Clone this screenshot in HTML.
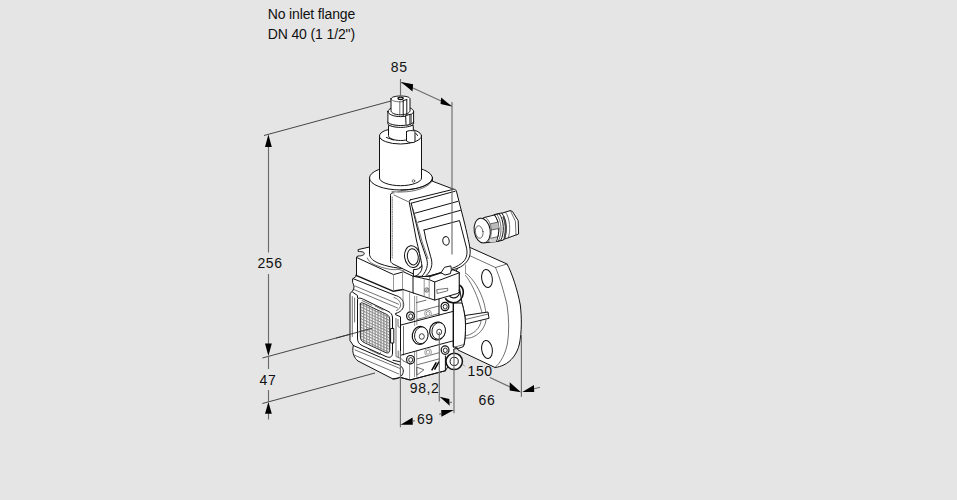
<!DOCTYPE html>
<html>
<head>
<meta charset="utf-8">
<title>No inlet flange DN 40</title>
<style>
html,body{margin:0;padding:0;background:#e5e5e5;}
body{width:957px;height:500px;overflow:hidden;position:relative;font-family:"Liberation Sans",sans-serif;}
svg{position:absolute;left:0;top:0;display:block;}
svg text{font-family:"Liberation Sans",sans-serif;font-size:14px;fill:#111;}
.k{stroke:#111;stroke-width:1;fill:none;stroke-linecap:round;stroke-linejoin:round;}
.kw{stroke:#111;stroke-width:1;fill:#fff;stroke-linecap:round;stroke-linejoin:round;}
.b{stroke:#111;stroke-width:1.4;fill:none;stroke-linecap:round;stroke-linejoin:round;}
.t{stroke:#333;stroke-width:0.7;fill:none;stroke-linecap:round;stroke-linejoin:round;}
.tw{stroke:#333;stroke-width:0.7;fill:#fff;stroke-linecap:round;stroke-linejoin:round;}
.g{stroke:#8a8a8a;stroke-width:0.9;fill:none;}
.d{stroke:#6c6c6c;stroke-width:1.15;fill:none;}
.dk{stroke:#333;stroke-width:0.9;fill:none;}
.a{fill:#000;stroke:none;}
</style>
</head>
<body>
<svg width="957" height="500" viewBox="0 0 957 500">
<defs>
<pattern id="mesh" width="2.9" height="2.9" patternUnits="userSpaceOnUse" patternTransform="matrix(1 0.47 0 1 0.5 0.8)">
<rect width="2.9" height="2.9" fill="#fff"/>
<path d="M0 0.55 H2.9 M0.55 0 V2.9" stroke="#8c8c8c" stroke-width="1.15"/>
</pattern>
</defs>
<rect x="0" y="0" width="957" height="500" fill="#e5e5e5"/>

<!-- ===== titles ===== -->
<text x="267.7" y="19" letter-spacing="-0.14">No inlet flange</text>
<text x="267.7" y="39" letter-spacing="-0.12">DN 40 (1 1/2")</text>

<!-- ===== extension lines behind drawing ===== -->
<g id="ext-back">
<path class="dk" d="M264 135.5 L391 101"/>
<path class="dk" d="M262.4 358 L372 328.3"/>
<path class="dk" d="M262.4 403.5 L375 373"/>
</g>

<!-- FLANGE -->
<g id="flange">
<!-- outer silhouette -->
<path class="kw" d="M470 247.5 L507 264 C512 273 517.5 290 520.3 305 C521.8 318 521.8 332 519.4 344 C517.2 354 511 361.5 504 364.8 C501 366.3 498 367.2 495 367.5 L458 350 L440 300 Z"/>
<!-- front face -->
<path class="t" d="M470.5 256 L495.5 267.5 L507 264"/>
<path class="t" d="M495.5 267.5 C499 275 504 292 507 305 C509 318 509.3 332 507.5 343 C505.5 354 500.5 363 495 367.5"/>
<!-- bolt holes -->
<ellipse class="k" cx="487" cy="278.5" rx="5.3" ry="9" transform="rotate(-9 487 278.5)" stroke-width="0.9"/>
<ellipse class="k" cx="487" cy="349.5" rx="5.3" ry="9" transform="rotate(-9 487 349.5)" stroke-width="0.9"/>
<!-- raised face arcs -->
<path class="t" d="M465.8 273.2 C473.5 278.5 480.8 291.5 484 303 C485 307 485.6 310 485.8 312.3"/>
<path class="t" d="M465.5 275.5 C470.5 281.5 476.2 293 479.5 304 C480.7 308 481.6 311 482 313"/>
<path class="g" d="M465.5 264.5 V274" stroke-width="0.8"/>
<path class="t" d="M486 320 C485.5 326 481 333 474 336.5 C471 338 468 338.5 465 338"/>
<path class="t" d="M481 321 C480.5 326 477 331 471 334 C469 335 467 335.7 465 335.7"/>
<!-- rib -->
<path class="kw" d="M465 315.5 L488 312 L489 318.3 L465.5 324 Z"/>
<path class="t" d="M465.3 319.5 L488.4 314"/>
</g>

<!-- GLAND -->
<g id="gland">
<!-- big nut (right) -->
<path class="kw" d="M501.9 213.2 L510.3 210.6 L512.4 211.4 L518.2 220.7 L518.6 234 L507.6 238 L500 240.4 Z"/>
<path class="t" d="M510.3 210.6 L515.4 221.2 L516 235"/>
<path class="t" d="M505.5 212.2 C510 218 511 231 508.2 237.8"/>
<!-- seal -->
<path class="kw" d="M501.9 213.2 C506.5 219 507.5 232 503.5 240 L497 241.5 L494.4 215 Z" />
<path d="M503.3 216.5 C506.2 222 506.6 231 504.6 237.8" stroke="#4a4a4a" stroke-width="2.2" fill="none"/>
<!-- small nut -->
<path class="kw" d="M494.4 215 L499.2 213.7 C504 220 504.8 233 500.6 240.4 L496 241.7 C500 233 499.6 222 494.4 215 Z"/>
<path class="t" d="M496.8 214.4 C501.8 221 502.5 233 498.4 241"/>
<!-- body -->
<path class="kw" d="M483.8 217.6 L494.4 215 C499.8 222 500.2 233 496 241.7 L484.7 242.8 Z"/>
<path d="M490.5 223.8 L498.4 222 L498.9 228.6 L491.4 230 Z" fill="#bbb" stroke="none"/>
<path d="M491 238.2 L497.4 236.8 L496 241.7 L490.5 242.4 Z" fill="#cfcfcf" stroke="none"/>
<path class="t" d="M490.5 223.8 L498.4 222 M491.4 230 L498.9 228.6 M491 238.2 L497.4 236.8" stroke="#777"/>
<!-- cap -->
<ellipse class="kw" cx="482.2" cy="230.6" rx="8" ry="12.4" transform="rotate(-9 482.2 230.6)"/>
<path class="t" d="M485.5 217.3 C492 222 493.5 235 488 242.6"/>
<ellipse class="t" cx="479.2" cy="232" rx="3.8" ry="6.3" transform="rotate(-9 479.2 232)"/>
</g>

<!-- BODY -->
<g id="body">
<!-- silhouette -->
<path class="kw" d="M358.5 249.5 L369.5 247 L413 262 L459 272.4 V285 L462 303 C464 310 465.5 318 465.5 325 C465.5 333 465 340 464 345 L458.4 348.4 L453.8 349 V356 L445.5 370.7 L410 380 L400.4 377.4 L393 379 L358 361 C354 358 352.6 353 352.8 349 L353.3 345.5 L350 340.5 V293.5 L352.6 291 C354.5 288 354.5 286 352.6 282.5 V279 L356.5 276 V257 L358 256 C362 256 364.3 255 364.3 253.5 C364.3 252 362 251.5 358.6 251.5 Z"/>
<!-- upper block -->
<path class="k" d="M356.7 257.5 L393.5 274.6 L403.5 271.8 L413.4 276.4" stroke-width="0.85"/>
<path class="b" d="M356 275.3 L393 291.2 L403 289.5"/>
<path class="g" d="M393.5 274.5 V291 M402.5 272 V289.5"/>
<!-- lip under upper block -->
<path class="k" d="M353 278.6 L395 295.3 C400 296.5 403.7 300 403.7 304.5 C403.7 309 400.5 312.2 396 313.3"/>
<path class="t" d="M355 286 L398.5 304.2 M354 289.5 L397.5 308"/>
<path class="t" d="M394 297.5 C397.5 298.5 400.6 301.5 400.6 304.8 C400.6 307.5 399 309.5 396.5 310.5"/>
<path class="k" d="M352.5 292 L357.5 295.5 L357.5 298"/>
<!-- window frame -->
<path class="k" d="M357.5 300 V338 C357.5 342 359 344 362 345.5 L386 356.5 C390 358.3 392.5 357 392.5 353 V318 C392.5 314.5 391 312.8 388 311.3 L363.5 299.3 C360 297.7 357.5 297.5 357.5 300 Z" style="fill:#fff"/>
<path class="t" d="M360.3 304 V336 C360.3 339.5 361.3 341 364 342.5 L385 352.3 C388 353.8 389.8 353 389.8 349.5 V320 C389.8 317 388.8 315.5 386.5 314.3 L365 304 C362 302.6 360.3 302 360.3 304 Z" style="fill:url(#mesh);stroke:#222;stroke-width:0.9"/>
<path class="t" d="M352.3 296.5 V336.5 M354.6 298 V322"/>
<path class="t" d="M362 300.5 L372 305.3 M375 306 L383 310"/>
<path class="t" d="M369 349.5 L379.5 354.5 L380.5 352.6"/>
<path class="kw" d="M391 328.5 H393.8 V343 H391 Z" stroke-width="0.8"/>
<!-- right of window : frame column -->
<path class="k" d="M396 313.3 L395.5 314.6 L400.5 316.8 V358"/>
<path class="t" d="M396 318.5 V356.5 L399.5 358 M398 319.5 V326.5 L400 327.5"/>
<path class="t" d="M398.2 351 V357"/>
<!-- bottom lip -->
<path class="k" d="M353.3 345.5 L395 363.6"/>
<path class="t" d="M355 349.9 L400.3 368.6 M354 355 L398.6 373.9"/>
<path class="k" d="M395 363.6 C399.5 364.3 403.3 367 403.3 371 C403.3 375 400 378 396 378.8 L393 379"/>
<path class="t" d="M400.5 358 L403.5 361"/>
<path class="k" d="M393 360.3 L400 361.7" stroke-width="1.2"/>
</g>

<!-- ACTUATOR -->
<g id="actuator">
<!-- base cylinder -->
<path class="kw" d="M369.5 178 V254.5 C370 258.5 374 261.5 380 263.8 C386 266 392 267.3 398 268 C405 269 412 269 420 268 L432.5 250 V178 Z"/>
<path class="t" d="M367.3 258 C368.5 261 370.5 262.5 373 264 C378 266.5 385 268.5 390.5 269.4 C394 269.8 397 269.5 399 269.5 L404 271"/>
<ellipse class="kw" cx="401" cy="178" rx="31.5" ry="12"/>
<path class="t" d="M392 191.6 C395 191.9 398 192 401 192 C416 192 429.5 187 432.3 180.5"/>
<!-- inner cylinder -->
<path class="kw" d="M379.5 136 V178 C379.5 182 389 185.7 400.5 185.7 C412 185.7 421.5 182 421.5 178 V136 Z"/>
<ellipse class="kw" cx="400.5" cy="136" rx="21" ry="8"/>
<ellipse class="t" cx="413.5" cy="181" rx="1.3" ry="1.3"/>
<!-- neck -->
<path class="kw" d="M388.5 126 V135.5 C388.5 138.3 394 140.5 400.7 140.5 C407.5 140.5 413 138.3 413.3 135.5 V126 Z"/>
<path class="k" d="M386.5 137.5 L393.5 140" stroke-width="1.6"/>
<!-- second cylinder -->
<path class="kw" d="M387.9 111.5 V124 C389 125.8 394 127.4 400.7 127.4 C407.5 127.4 412.5 125.8 413.6 124 V111.5 C413.6 108.5 407.5 106.5 400.7 106.5 C394 106.5 387.9 108.5 387.9 111.5 Z"/>
<path class="k" d="M387.9 122.2 C389 124 394 125.5 400.7 125.5 C407.5 125.5 412.5 124 413.6 122.2" stroke-width="1.2"/>
<path class="k" d="M387.9 111.5 C387.9 114.5 394 116.6 400.7 116.6 C407.5 116.6 413.6 114.5 413.6 111.5"/>
<!-- tab -->
<path class="kw" d="M406 115.4 L411 114.2 V123.3 C411 124 410.6 124.4 410 124.5 L407 125.2 C406.4 125.3 406 125 406 124.3 Z"/>
<path class="t" d="M409.6 114.6 V124.5"/>
<!-- top plug -->
<path class="kw" d="M391 98.8 V110.5 C391 113 395 114.8 400.5 114.8 C406 114.8 410 113 410 110.5 V98.8 C410 97.2 406 96 400.5 96 C395 96 391 97.2 391 98.8 Z"/>
<path class="t" d="M391 98.8 C391 100.6 395 101.8 400.5 101.8 C401.5 101.8 402.3 101.8 403 101.6"/>
<path class="k" d="M403.2 100.6 V115.8 M406.8 99.6 V115 M403.2 100.6 L406.8 99.6"/>
<path class="t" d="M399.8 101.8 V115"/>
<ellipse cx="400.6" cy="98.3" rx="2.6" ry="1.2" fill="#fff" stroke="#111" stroke-width="1.3"/>
<!-- pin -->
<path class="kw" d="M406.5 131.6 V141 C407.5 142.6 413.5 143.3 415 141.8 V131.6 C415 130.2 406.5 130.2 406.5 131.6 Z"/>
<path class="k" d="M416 133.5 L417.5 135.5" stroke-width="1.2"/>
</g>

<!-- CONNECTOR BOX -->
<g id="box">
<!-- side of box -->
<path d="M392.5 192.6 L409 200 L420 275 L413.5 274 L393 264 C391.3 263 390.5 262 390.5 260 V195 C390.5 193.3 391.3 192.6 392.5 192.6 Z" fill="#fff" stroke="none"/>
<path class="k" d="M413.5 274 L393 264 C391.3 263 390.5 262 390.5 260 V195.2 C390.5 193.6 391.4 192.9 393 192.8 L400 192.4"/>
<!-- top of box -->
<path d="M392.5 192.6 C398 192.3 425 190 432.5 181.3 L453.5 189.2 L409 200.3 Z" fill="#fff" stroke="none"/>
<path class="t" d="M398 192 C399 192 400 192 401 192 C416 192 429.5 187 432.3 180.5"/>
<path class="k" d="M401 190 C417 190 430 185.5 432.5 178.5"/>
<path class="k" d="M432.7 181.3 L453.5 189.2"/>
<path class="t" d="M394 195 L408 201.6" stroke="#666"/>
<path class="t" d="M392.2 197 V258" stroke-dasharray="1.2 1.2" stroke="#888"/>
<!-- ring housing -->
<path class="kw" d="M413.4 276.4 V269.5 C417 269.8 420 268.5 422 266 L424 275 Z"/>
<ellipse class="kw" cx="412.3" cy="256.6" rx="7.7" ry="10.9" transform="rotate(-8 412.3 256.6)" stroke-width="1.7"/>
<ellipse class="k" cx="412.8" cy="256.8" rx="5.4" ry="8.2" transform="rotate(-8 412.8 256.8)" stroke-width="1.1"/>
<!-- front frame -->
<path class="kw" d="M410.5 199.8 L453.5 189.3 C455 189 456 189.8 456.4 191.2 L465 225 C467 234 470 246 470.2 251 C470.4 258 467 263 460.5 267 C457 268.6 455 269.2 453 269.6 L441 272.6 L430 275.8 L425 276.8 L414.3 276.6 C420 274.5 422.5 270 422 266 C421.5 261 418 247 416.4 240 L409.2 201.8 C409 200.6 409.5 200 410.5 199.8 Z" stroke-width="1.2"/>
<path class="k" d="M411.2 203.2 L455.2 191.2"/>
<path class="k" d="M411.2 203.2 L420.2 240 L426 256.8 C427.2 260 427.6 263 427.3 265.2 C427 269 424.6 274 421 277" stroke-width="1.3"/>
<path class="t" d="M413 209 L422.5 243 L428 258.5"/>
<path class="k" d="M415 213.2 L458 201.3 M418 222.2 L460.5 210.3"/>
<!-- inner panel -->
<path class="k" d="M424 230 L459.5 220.6 L466.3 247 C467.6 252 467.2 257 464.2 260.8 C461 264.5 456 267 452.5 268.2" stroke-width="0.9"/>
<path class="k" d="M424 230 L426 240 L430.7 256.8 C431.7 260 432 262.5 431.8 264.4 C431.5 268 429.8 272.4 425.2 276.5 L430.3 275.7 L440.3 272.8"/>
<ellipse class="k" cx="446" cy="240.9" rx="3.2" ry="4.3" transform="rotate(-8 446 241)"/>
</g>

<!-- FRONT DETAILS -->
<g id="front">
<!-- right plate -->
<path class="kw" d="M453.5 303 L462 303 C464 310 465.5 318 465.5 325 C465.5 333 465 340 464 344.6 L463.4 346.6 L458.4 348.4 L454.6 347.1 L453.5 347 Z" stroke-width="0.9"/>
<path class="t" d="M454.6 347.1 L463.6 344.6"/>
<!-- gray verticals -->
<path class="g" d="M414.6 296 V326 M416.8 296 V325" stroke-width="0.8"/>
<path class="g" d="M414.5 351 V377 M416.7 351 V377" stroke-width="0.8"/>
<path class="g" d="M409.6 364 V379.5"/>
<!-- plate lines -->
<path class="k" d="M401 325 L453.5 311.3"/>
<path class="t" d="M403.5 326.5 V355"/>
<path class="k" d="M401.2 355.1 L439 344.6 L453.5 340.8"/>
<path class="t" d="M417.2 358.9 L439 352.7 M417.2 364.8 L439 358.9"/>
<path class="t" d="M417.2 311.8 L438.8 306 M417.2 319.4 L438.8 313.6 M416.4 302.6 L426 300.2"/>
<path class="g" d="M409.6 292.5 V311 M403 290 V307" stroke-width="0.8"/>
<path class="k" d="M439 298.5 V315.2" stroke="#333"/>
<path class="k" d="M453.5 303 V347" />
<path class="k" d="M445.4 356 V370.7"/>
<path class="k" d="M400.4 377.4 L410 380 L445.5 370.7"/>
<path class="t" d="M403.5 361 L409.6 364"/>
<!-- faint bolts -->
<g stroke="#888" stroke-width="0.8" fill="#fff">
<ellipse cx="428" cy="313.5" rx="3.4" ry="3.6"/><ellipse cx="428" cy="313.5" rx="1.8" ry="2"/>
<ellipse cx="428.1" cy="352.2" rx="3.4" ry="3.6"/><ellipse cx="428.1" cy="352.2" rx="1.8" ry="2"/>
</g>
<!-- small bolts -->
<g stroke="#111" fill="#fff">
<ellipse cx="410.5" cy="316" rx="3.9" ry="4.2" stroke-width="1.2"/><ellipse cx="410.7" cy="316.2" rx="2" ry="2.3" stroke-width="0.9"/>
<ellipse cx="445" cy="306.5" rx="3.9" ry="4.2" stroke-width="1.2"/><ellipse cx="445.2" cy="306.7" rx="2" ry="2.3" stroke-width="0.9"/>
<ellipse cx="410.5" cy="359.7" rx="3.9" ry="4.2" stroke-width="1.2"/><ellipse cx="410.7" cy="359.9" rx="2" ry="2.3" stroke-width="0.9"/>
<ellipse cx="445.1" cy="350.1" rx="3.9" ry="4.2" stroke-width="1.2"/><ellipse cx="445.3" cy="350.3" rx="2" ry="2.3" stroke-width="0.9"/>
</g>
<!-- big screws -->
<g stroke="#111" fill="#fff">
<ellipse cx="420" cy="335.4" rx="7.7" ry="9" transform="rotate(10 420 335.4)" stroke-width="1.2"/>
<ellipse cx="421.3" cy="335.3" rx="6.7" ry="8.4" transform="rotate(10 421.3 335.3)" stroke-width="0.9"/>
<ellipse cx="421.8" cy="336.5" rx="2.5" ry="2.8" stroke-width="0.8"/>
<ellipse cx="437.4" cy="331" rx="7.7" ry="9" transform="rotate(10 437.4 331)" stroke-width="1.2"/>
<ellipse cx="438.7" cy="330.9" rx="6.7" ry="8.4" transform="rotate(10 438.7 330.9)" stroke-width="0.9"/>
<ellipse cx="439.2" cy="332" rx="2.5" ry="2.8" stroke-width="0.8"/>
</g>
<!-- arrow + hatch -->
<path class="t" d="M417.2 367.3 L423.9 369.8 L417.2 374.9 Z"/>
<path d="M431.7 370.4 L436.3 362.4 M434.5 369.7 L439.1 361.7" stroke="#000" stroke-width="1.5" fill="none"/>
<!-- lower washer -->
<circle cx="454.2" cy="361.4" r="8.2" fill="#fff" stroke="#111" stroke-width="1.5"/>
<circle cx="454.2" cy="361.4" r="4.1" fill="#fff" stroke="#111" stroke-width="1"/>
<path class="g" d="M462.5 364 L465 366.5"/>
<!-- small connector block -->
<path class="kw" d="M413.4 276.2 L430 276.6 L441 273 L453 269.8 L459.2 272.4 V291.7 L457.8 293.4 L434.7 300.1 L413.4 293 Z"/>
<path class="k" d="M413.4 276.2 L429.5 279.8 L434.7 282 L459.2 272.8 M434.7 282 V300.1"/>
<path class="t" d="M429.5 279.8 L430 276.6"/>
<path class="g" d="M424.2 278.6 V296.6 M429.2 279.8 V298.3"/>
<circle cx="426.7" cy="290" r="2.2" fill="#ddd" stroke="#555" stroke-width="0.8"/>
<path d="M425.4 291.8 L428 288.2" stroke="#555" stroke-width="0.7"/>
<path class="t" d="M437.2 289.6 L447.7 288.3 V290.8 L437.5 293.4 Z"/>
<!-- clip -->
<path class="kw" d="M441.2 272.4 L444.5 267.3 L450.8 265.9 L451.4 269.4 L450.4 273.6 L445.4 274.9 Z"/>
<path class="k" d="M403 289.5 L413.4 293"/>
<!-- upper ring (lifting eye) -->
<path d="M459.2 285 C462 286.5 463.5 289.8 463.3 293 C462.9 298.6 458.5 302.8 453.5 302.8 C450 302.8 447 301 445.3 298.3" stroke="#111" stroke-width="1.6" fill="none"/>
<path d="M459.2 289.5 C459.8 291 459.7 293 459 294.5 C457.8 297 455.5 298 453 297.8 C451.5 297.6 450.3 297 449.5 296.3" stroke="#111" stroke-width="1.2" fill="none"/>
</g>

<!-- ===== dimensions ===== -->
<g id="dims">
<path class="dk" d="M336 338.1 L372 328.3"/>
<!-- 256 vertical -->
<path class="d" d="M268.5 146 V252.5 M268.5 274 V345"/>
<polygon class="a" points="268.4,134.5 265,147 271.8,147"/>
<polygon class="a" points="268.4,356 265,343.5 271.8,343.5"/>
<text x="257.4" y="268" letter-spacing="0.6">256</text>
<!-- 47 -->
<path class="d" d="M268.5 356 V369 M268.5 390 V402 M268.5 413 V419.6"/>
<polygon class="a" points="268.4,402 265,413.8 271.8,413.8"/>
<text x="259.6" y="385" letter-spacing="0.6">47</text>
<!-- 85 -->
<path class="d" d="M400.5 79 V97"/>
<path class="d" d="M452 102 V254.5"/>
<path class="d" d="M401 82.6 L452 106"/>
<polygon class="a" points="401.1,82.1 413.1,84.2 412.5,91.6"/>
<polygon class="a" points="451.8,106.4 441.2,97.5 440.6,104"/>
<text x="390.8" y="72" letter-spacing="0.6">85</text>
<!-- bottom -->
<path class="d" d="M400.4 351 V427.3"/>
<path class="d" d="M439.3 332 V401.5"/>
<path class="d" d="M454 351 V413.3" stroke-width="1.3"/>
<path class="d" d="M521.4 335 V396.8"/>
<!-- 69 arrows -->
<polygon class="a" points="400.5,424.7 412.6,417.4 412.8,424.7"/>
<path class="d" d="M412.7 421.2 L414.8 420.6"/>
<polygon class="a" points="453.9,410 441.2,410 441.4,416.8"/>
<path class="d" d="M441.3 413.6 L439.3 414.4"/>
<!-- 98,2 arrow -->
<polygon class="a" points="439.6,396.8 449.3,399 449.7,405.8"/>
<path class="d" d="M449.5 402.6 L452 402.2"/>
<!-- 150 / 66 arrows -->
<path class="d" d="M489.9 377.4 L510 387"/>
<polygon class="a" points="521,392.3 509.7,382.2 509.7,390.4"/>
<polygon class="a" points="522.3,392 534,385 534.2,392"/>
<path class="d" d="M534.1 388.8 L540 387.3"/>
<text x="409.8" y="393" letter-spacing="0.6">98,2</text>
<text x="416.9" y="424.2" letter-spacing="0.6">69</text>
<text x="467.6" y="376" letter-spacing="0.6">150</text>
<text x="478.5" y="405" letter-spacing="0.6">66</text>
</g>
</svg>
</body>
</html>
